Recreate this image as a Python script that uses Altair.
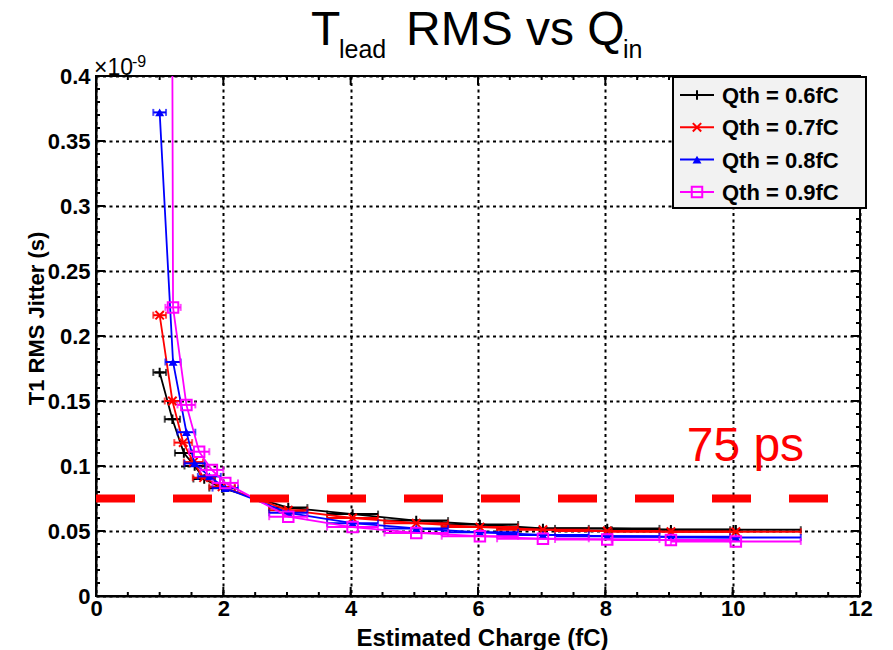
import altair as alt
import numpy as np
import pandas as pd

# T1 RMS jitter (units of 1e-9 s) against estimated input charge (fC),
# with the spread of the estimated charge, for four discriminator thresholds.
q_06 = [1.00, 1.20, 1.38, 1.55, 1.70, 1.98, 3.02, 4.03, 5.03, 6.03, 7.02, 8.03, 9.03, 10.05]
dq_06 = [0.10, 0.12, 0.14, 0.16, 0.17, 0.20, 0.30, 0.40, 0.50, 0.60, 0.72, 0.82, 0.93, 1.02]
rms_06 = [0.172, 0.136, 0.110, 0.100, 0.090, 0.083, 0.068, 0.063, 0.058, 0.055, 0.052, 0.052, 0.051, 0.051]

q_07 = [1.00, 1.20, 1.37, 1.53, 1.69, 1.98, 3.02, 4.03, 5.03, 6.03, 7.02, 8.03, 9.03, 10.05]
dq_07 = [0.10, 0.12, 0.14, 0.15, 0.17, 0.20, 0.30, 0.40, 0.50, 0.60, 0.72, 0.82, 0.93, 1.02]
rms_07 = [0.216, 0.150, 0.118, 0.103, 0.091, 0.084, 0.066, 0.060, 0.056, 0.053, 0.051, 0.050, 0.0495, 0.0495]

q_08 = [1.00, 1.21, 1.42, 1.55, 1.78, 2.03, 3.02, 4.03, 5.03, 6.03, 7.02, 8.03, 9.03, 10.05]
dq_08 = [0.10, 0.12, 0.14, 0.16, 0.18, 0.20, 0.30, 0.40, 0.50, 0.60, 0.72, 0.82, 0.93, 1.02]
rms_08 = [0.372, 0.180, 0.126, 0.102, 0.092, 0.083, 0.064, 0.056, 0.052, 0.049, 0.047, 0.046, 0.0455, 0.045]

q_09 = [1.00, 1.21, 1.42, 1.62, 1.82, 2.03, 3.02, 4.03, 5.03, 6.03, 7.02, 8.03, 9.03, 10.05]
dq_09 = [0.10, 0.12, 0.14, 0.16, 0.18, 0.20, 0.30, 0.40, 0.50, 0.60, 0.72, 0.82, 0.93, 1.02]
rms_09 = [4.0, 0.222, 0.147, 0.111, 0.097, 0.087, 0.061, 0.053, 0.0485, 0.046, 0.044, 0.0435, 0.043, 0.042]

series_q = [q_06, q_07, q_08, q_09]
series_dq = [dq_06, dq_07, dq_08, dq_09]
series_rms = [rms_06, rms_07, rms_08, rms_09]
series_labels = ["Qth = 0.6fC", "Qth = 0.7fC", "Qth = 0.8fC", "Qth = 0.9fC"]
series_colors = ["#000000", "#ff0000", "#0000ff", "#ff00ff"]

jitter_limit = 0.075  # 75 ps
limit_text = "75 ps"

x_labels = [0, 2, 4, 6, 8, 10, 12]
y_labels = [0, 0.05, 0.1, 0.15, 0.2, 0.25, 0.3, 0.35, 0.4]
x_minor = list(np.arange(0, 12.01, 0.5))
y_minor = list(np.round(np.arange(0, 0.4001, 0.01), 3))

FONT = "Liberation Sans"
W, H = 764, 520

xs = alt.Scale(domain=[0, 12], nice=False, zero=False)
ys = alt.Scale(domain=[0, 0.4], nice=False, zero=False)

# marker look per threshold: plus, cross, filled triangle, open square
markers = [
    dict(shape="M-1,0L1,0M0,-1L0,1", filled=False, size=90, strokeWidth=2),
    dict(shape="M-1,-1L1,1M-1,1L1,-1", filled=False, size=70, strokeWidth=2),
    dict(shape="triangle-up", filled=True, size=80, strokeWidth=0),
    dict(shape="square", filled=False, size=110, strokeWidth=2),
]

x_axis = alt.Axis(
    values=x_labels, grid=True, gridColor="black", gridDash=[3, 3.5], gridWidth=2,
    ticks=False, domain=True, domainColor="black", domainWidth=2,
    labelFont=FONT, labelFontWeight="bold", labelFontSize=22, labelColor="black",
    labelPadding=2, labelFlush=False, labelOverlap=False,
    title="Estimated Charge (fC)", titleFont=FONT, titleFontWeight="bold",
    titleFontSize=24, titleColor="black", titleX=386, titleY=49,
    titleAlign="center", titleBaseline="alphabetic",
)
y_axis = alt.Axis(
    values=y_labels, format="~g", grid=True, gridColor="black", gridDash=[3, 3.5],
    gridWidth=2, ticks=False, domain=True, domainColor="black", domainWidth=2,
    labelFont=FONT, labelFontWeight="bold", labelFontSize=22, labelColor="black",
    labelPadding=6, labelOverlap=False, labelFlush=False,
    title="T1 RMS Jitter (s)", titleFont=FONT, titleFontWeight="bold",
    titleFontSize=22, titleColor="black", titleAngle=270, titleX=-60, titleY=242,
    titleAlign="center", titleBaseline="middle",
)


def X(field):
    return alt.X(field, scale=xs, axis=x_axis)


def Y(field):
    return alt.Y(field, scale=ys, axis=y_axis)


one_row = pd.DataFrame({"k": [0]})
layers = []

# 75 ps requirement line
limit_df = pd.DataFrame({"x0": [0.0], "x1": [12.0], "y": [jitter_limit]})
limit_line = alt.Chart(limit_df).mark_rule(
    color="#ff0000", strokeWidth=8, strokeDash=[39, 38]
).encode(x=X("x0:Q"), x2="x1:Q", y=Y("y:Q"))

# inward-pointing ticks on all four sides of the frame
for vals, length in [(x_labels, 9), (x_minor, 4)]:
    tdf = pd.DataFrame({"v": vals})
    for y0, y1 in [(H, H - length), (0, length)]:
        layers.append(
            alt.Chart(tdf).mark_rule(color="black", strokeWidth=2).encode(
                x=X("v:Q"), y=alt.value(y0), y2=alt.value(y1),
            )
        )
for vals, length in [(y_labels, 9), (y_minor, 4)]:
    tdf = pd.DataFrame({"v": vals})
    for x0, x1 in [(0, length), (W, W - length)]:
        layers.append(
            alt.Chart(tdf).mark_rule(color="black", strokeWidth=2).encode(
                y=Y("v:Q"), x=alt.value(x0), x2=alt.value(x1),
            )
        )

# graphs: connecting line, horizontal charge error bars with end caps, markers
for q, dq, rms, col, mk in zip(series_q, series_dq, series_rms, series_colors, markers):
    df = pd.DataFrame({"q": q, "dq": dq, "rms": rms})
    df["lo"] = df["q"] - df["dq"]
    df["hi"] = df["q"] + df["dq"]
    base = alt.Chart(df)
    layers.append(
        base.mark_line(color=col, strokeWidth=1.8, clip=True).encode(
            x=X("q:Q"), y=Y("rms:Q"), order="q:Q",
        )
    )
    layers.append(
        base.mark_rule(color=col, strokeWidth=2, clip=True).encode(
            x=X("lo:Q"), x2="hi:Q", y=Y("rms:Q"),
        )
    )
    layers.append(
        base.transform_fold(["lo", "hi"], as_=["end", "edge"])
        .mark_tick(color=col, orient="vertical", size=7, thickness=2, clip=True)
        .encode(x=X("edge:Q"), y=Y("rms:Q"))
    )
    layers.append(
        base.mark_point(color=col, opacity=1, clip=True, **mk).encode(
            x=X("q:Q"), y=Y("rms:Q"),
        )
    )

layers.append(limit_line)
label_df = pd.DataFrame({"x": [10.2], "y": [0.104], "t": [limit_text]})
layers.append(
    alt.Chart(label_df).mark_text(
        font=FONT, fontSize=48, color="#ff0000", align="center", baseline="alphabetic"
    ).encode(x=X("x:Q"), y=Y("y:Q"), text="t:N")
)

# legend box in the upper right corner
layers.append(
    alt.Chart(one_row).mark_rect(fill="#f2f2f2", stroke="black", strokeWidth=2).encode(
        x=alt.value(577), x2=alt.value(770), y=alt.value(1), y2=alt.value(132)
    )
)
for i, (lab, col, mk) in enumerate(zip(series_labels, series_colors, markers)):
    yrow = 19 + 32.3 * i
    layers.append(
        alt.Chart(one_row).mark_rule(color=col, strokeWidth=2).encode(
            x=alt.value(584), x2=alt.value(618), y=alt.value(yrow)
        )
    )
    layers.append(
        alt.Chart(one_row).mark_point(color=col, opacity=1, **mk).encode(
            x=alt.value(601), y=alt.value(yrow)
        )
    )
    layers.append(
        alt.Chart(one_row).mark_text(
            text=lab, font=FONT, fontWeight="bold", fontSize=22, color="black",
            align="left", baseline="middle",
        ).encode(x=alt.value(626), y=alt.value(yrow + 1))
    )

# title with subscripts and the 1e-9 axis multiplier
title_parts = [
    ("T", 215, -31, 48),
    ("lead", 243, -18, 25),
    ("RMS vs Q", 310, -31, 48),
    ("in", 527, -18, 25),
    ("\u00d710", -2, -1, 23),
    ("-9", 36, -9, 16),
]
for txt, px, py, fs in title_parts:
    layers.append(
        alt.Chart(one_row).mark_text(
            text=txt, font=FONT, fontSize=fs, color="black",
            align="left", baseline="alphabetic",
        ).encode(x=alt.value(px), y=alt.value(py))
    )

chart = (
    alt.layer(*layers)
    .properties(
        width=W, height=H,
        padding={"left": 96, "top": 76, "right": 33, "bottom": 54},
        autosize=alt.AutoSizeParams(type="none"),
        background="white",
    )
    .configure_view(stroke="black", strokeWidth=2)
)

chart.save("out.html", embed_options={"renderer": "svg", "actions": False})
